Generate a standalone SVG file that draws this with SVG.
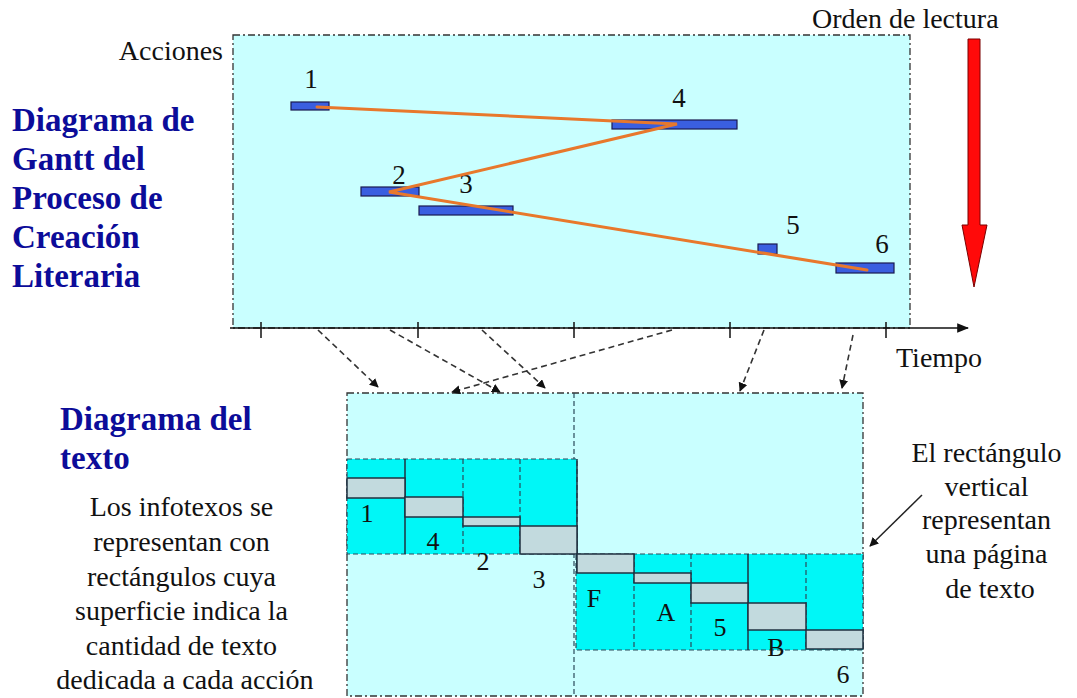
<svg xmlns="http://www.w3.org/2000/svg" width="1077" height="698" viewBox="0 0 1077 698">
<defs>
<style>
text{font-family:'Liberation Serif','Tinos','DejaVu Serif','Noto Serif',serif}
.t{font-size:28px;fill:#111}
.n{font-size:27px;fill:#111}
.nb{font-size:26px;fill:#111}
.h{font-size:33px;font-weight:bold;fill:#0c0c99}
.box{fill:#c9ffff;stroke:#333;stroke-width:1.3;stroke-dasharray:7 3 2 3}
.bar{fill:#3a5fe0;stroke:#1a1a50;stroke-width:1.2}
.pg{fill:#00f7f7;stroke:#2a4a5a;stroke-width:1.2;stroke-dasharray:5 3}
.dv{stroke:#2a4a5a;stroke-width:1.2;stroke-dasharray:5 3;fill:none}
.gr{fill:#c2dade;stroke:#1f3040;stroke-width:1.5}
.sl{stroke:#1f3040;stroke-width:1.5;fill:none}
.or{stroke:#e8782c;stroke-width:3;fill:none;stroke-linecap:round}
.da{stroke:#333;stroke-width:1.6;stroke-dasharray:6 4;fill:none;marker-end:url(#ah)}
</style>
<marker id="ah" viewBox="0 0 10 10" refX="9" refY="5" markerWidth="9" markerHeight="9" markerUnits="userSpaceOnUse" orient="auto"><path d="M0,0 L10,5 L0,10 z" fill="#111"/></marker>
<marker id="ax" viewBox="0 0 10 10" refX="9" refY="5" markerWidth="12" markerHeight="12" markerUnits="userSpaceOnUse" orient="auto"><path d="M0,1 L10,5 L0,9 z" fill="#111"/></marker>
</defs>
<rect width="1077" height="698" fill="#ffffff"/>

<g id="titles" font-family="Liberation Serif, DejaVu Serif, serif">
<text class="h" x="12" y="131">Diagrama de</text>
<text class="h" x="12" y="170">Gantt del</text>
<text class="h" x="12" y="209">Proceso de</text>
<text class="h" x="12" y="248">Creación</text>
<text class="h" x="12" y="287">Literaria</text>
<text class="h" x="60" y="430">Diagrama del</text>
<text class="h" x="60" y="469">texto</text>
</g>

<g id="gantt-chart">
<rect class="box" x="233" y="35" width="677" height="293"/>
<line x1="230" y1="328" x2="968" y2="328" stroke="#111" stroke-width="1.6" marker-end="url(#ax)"/>
<g stroke="#111" stroke-width="1.5">
<line x1="261" y1="322" x2="261" y2="338"/>
<line x1="418" y1="322" x2="418" y2="338"/>
<line x1="574" y1="322" x2="574" y2="338"/>
<line x1="730" y1="322" x2="730" y2="338"/>
<line x1="886" y1="322" x2="886" y2="338"/>
</g>
<text class="t" x="223" y="60" text-anchor="end">Acciones</text>
<text class="t" x="896" y="367">Tiempo</text>
</g>

<g id="reading-order">
<text class="t" x="812" y="28">Orden de lectura</text>
<polygon points="968,39 980,39 980,225 987,225 974,287 962,225 968,225" fill="#ff0a0a" stroke="#7a0000" stroke-width="1"/>
</g>

<g id="bar-1"><rect class="bar" x="291" y="102" width="38" height="8"/><text class="n" x="311" y="88" text-anchor="middle">1</text></g>
<g id="bar-4"><rect class="bar" x="612" y="120" width="125" height="9"/><text class="n" x="679" y="107" text-anchor="middle">4</text></g>
<g id="bar-2"><rect class="bar" x="361" y="187" width="58" height="9"/><text class="n" x="399" y="184" text-anchor="middle">2</text></g>
<g id="bar-3"><rect class="bar" x="419" y="206" width="94" height="9"/><text class="n" x="466" y="193" text-anchor="middle">3</text></g>
<g id="bar-5"><rect class="bar" x="758" y="244" width="19" height="10"/><text class="n" x="793" y="234" text-anchor="middle">5</text></g>
<g id="bar-6"><rect class="bar" x="836" y="263" width="58" height="10"/><text class="n" x="882" y="253" text-anchor="middle">6</text></g>

<g id="text-diagram">
<rect class="box" x="347" y="393" width="516" height="303"/>
<line class="dv" x1="574" y1="393" x2="574" y2="696"/>
<rect class="pg" x="347" y="459" width="230" height="95"/>
<rect class="pg" x="576" y="554" width="287" height="96"/>
<line class="dv" x1="463" y1="459" x2="463" y2="554"/>
<line class="dv" x1="520" y1="459" x2="520" y2="554"/>
<line class="dv" x1="634" y1="554" x2="634" y2="650"/>
<line class="dv" x1="691" y1="554" x2="691" y2="650"/>
<line class="dv" x1="806" y1="554" x2="806" y2="650"/>
<line class="sl" x1="405" y1="459" x2="405" y2="554"/>
<line class="sl" x1="577" y1="459" x2="577" y2="573"/>
<line class="sl" x1="748" y1="554" x2="748" y2="650"/>
<rect class="gr" x="347" y="478" width="58" height="20"/>
<rect class="gr" x="405" y="497" width="58" height="20"/>
<rect class="gr" x="463" y="517" width="57" height="9"/>
<rect class="gr" x="520" y="526" width="57" height="28"/>
<rect class="gr" x="577" y="554" width="57" height="19"/>
<rect class="gr" x="634" y="573" width="57" height="10"/>
<rect class="gr" x="691" y="583" width="57" height="20"/>
<rect class="gr" x="748" y="603" width="58" height="27"/>
<rect class="gr" x="806" y="630" width="57" height="19"/>
<text class="nb" x="367" y="522" text-anchor="middle">1</text>
<text class="nb" x="433" y="550" text-anchor="middle">4</text>
<text class="nb" x="483" y="570" text-anchor="middle">2</text>
<text class="nb" x="539" y="588" text-anchor="middle">3</text>
<text class="nb" x="594" y="607" text-anchor="middle">F</text>
<text class="nb" x="666" y="621" text-anchor="middle">A</text>
<text class="nb" x="720" y="636" text-anchor="middle">5</text>
<text class="nb" x="776" y="656" text-anchor="middle">B</text>
<text class="nb" x="843" y="683" text-anchor="middle">6</text>
</g>

<g id="note-left">
<text class="t" text-anchor="middle">
<tspan x="185" y="516">Los infotexos se</tspan>
<tspan x="185" y="551">representan con</tspan>
<tspan x="185" y="586">rectángulos cuya</tspan>
<tspan x="185" y="620">superficie indica la</tspan>
<tspan x="185" y="655">cantidad de texto</tspan>
<tspan x="185" y="689">dedicada a cada acción</tspan>
</text>
</g>

<g id="note-right">
<text class="t" text-anchor="middle">
<tspan x="990" y="462">El rectángulo</tspan>
<tspan x="990" y="496">vertical</tspan>
<tspan x="990" y="529">representan</tspan>
<tspan x="990" y="563">una página</tspan>
<tspan x="990" y="598">de texto</tspan>
</text>
</g>

<g id="connectors">
<polyline class="or" points="317,107 677,124 389,192 867,270"/>
<line class="da" x1="318" y1="330" x2="378" y2="387"/>
<line class="da" x1="390" y1="330" x2="500" y2="392"/>
<line class="da" x1="482" y1="330" x2="545" y2="388"/>
<line class="da" x1="672" y1="330" x2="452" y2="392"/>
<line class="da" x1="764" y1="330" x2="740" y2="391"/>
<line class="da" x1="853" y1="335" x2="842" y2="388"/>
<line x1="922" y1="495" x2="870" y2="546" stroke="#222" stroke-width="1.5" marker-end="url(#ah)"/>
</g>
</svg>
